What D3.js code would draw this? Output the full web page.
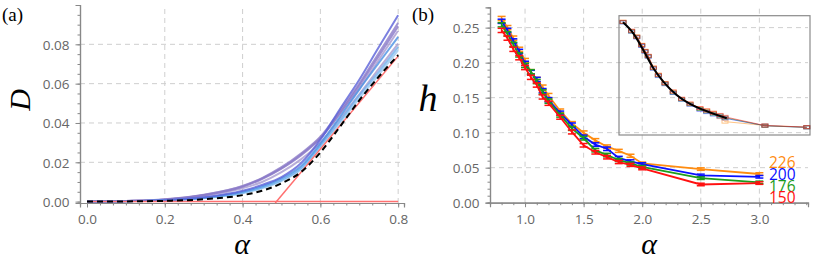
<!DOCTYPE html>
<html><head><meta charset="utf-8">
<script src="https://cdn.jsdelivr.net/npm/d3@7"></script>
<style>
body{margin:0;background:#fff;}
svg{display:block;}
.tick text{font-family:"Open Sans",sans-serif;}
</style></head>
<body>
<svg id="c" width="814" height="262"></svg>
<script>
// ---------- Panel (a) data ----------
const alphaA = [0,0.1,0.2,0.3,0.4,0.45,0.5,0.55,0.6,0.65,0.7,0.75,0.8];
const dashedD = [0,0.0001,0.0004,0.0012,0.0033,0.0055,0.0093,0.0150,0.0250,0.0380,0.0515,0.0635,0.0745];
const curvesD = [
  [0,0.0003,0.0011,0.0034,0.0078,0.0118,0.0170,0.0240,0.0325,0.0445,0.0575,0.0720,0.0870],
  [0,0.0003,0.0010,0.0030,0.0068,0.0100,0.0150,0.0215,0.0300,0.0420,0.0545,0.0675,0.0804],
  [0,0.0003,0.0012,0.0035,0.0080,0.0120,0.0175,0.0245,0.0330,0.0460,0.0600,0.0755,0.0909],
  [0,0.0003,0.0010,0.0032,0.0075,0.0115,0.0168,0.0235,0.0322,0.0450,0.0590,0.0740,0.0892],
  [0,0.0002,0.0006,0.0017,0.0042,0.0068,0.0105,0.0163,0.0278,0.0400,0.0525,0.0645,0.0770],
  [0,0.0002,0.0006,0.0018,0.0045,0.0072,0.0110,0.0170,0.0285,0.0410,0.0540,0.0660,0.0787],
  [0,0.0002,0.0007,0.0020,0.0050,0.0078,0.0118,0.0180,0.0295,0.0430,0.0570,0.0705,0.0838],
  [0,0.0002,0.0007,0.0022,0.0055,0.0085,0.0125,0.0195,0.0315,0.0470,0.0620,0.0785,0.0948]
];
const curveColors = ["#a898d0","#a89ad0","#8c7cc8","#8878c8","#98c8f0","#70b0ec","#4a90e4","#5a60d8"];
const redLineA = [[0,0],[0.8,0]];
const redSlopeA = [[0.484,-0.0007],[0.8,0.0740]];
const xTicksA = [0,0.2,0.4,0.6,0.8];
const yTicksA = [0,0.02,0.04,0.06,0.08];

// ---------- Panel (b) data ----------
const alphaB = [0.8,0.85,0.9,0.95,1.0,1.05,1.1,1.15,1.2,1.3,1.4,1.5,1.6,1.7,1.8,1.9,2.0,2.5,3.0];
const h226 = [0.263,0.250,0.235,0.219,0.203,0.187,0.176,0.165,0.153,0.131,0.113,0.100,0.089,0.080,0.074,0.067,0.056,0.048,0.041];
const h200 = [0.259,0.246,0.231,0.216,0.199,0.186,0.176,0.160,0.147,0.128,0.111,0.094,0.083,0.077,0.064,0.059,0.055,0.039,0.037];
const h176 = [0.254,0.241,0.226,0.211,0.196,0.187,0.173,0.158,0.145,0.125,0.106,0.092,0.075,0.068,0.061,0.056,0.051,0.035,0.029];
const h150 = [0.246,0.235,0.219,0.207,0.193,0.179,0.168,0.151,0.142,0.122,0.101,0.082,0.072,0.065,0.058,0.054,0.049,0.026,0.028];
const errB = [0.003,0.003,0.003,0.003,0.003,0.003,0.003,0.003,0.003,0.0028,0.0028,0.0025,0.0025,0.0025,0.0022,0.0022,0.002,0.0018,0.0018];
const sizes = ["226","200","176","150"];
const colorsB = ["#ff8c10","#0a10ff","#1c9c1c","#ff1010"];
const xTicksB = [1.0,1.5,2.0,2.5,3.0];
const yTicksB = [0,0.05,0.10,0.15,0.20,0.25];

// inset (collapsed data, arbitrary scaled units)
const insetX = [0.021,0.066,0.093,0.119,0.136,0.153,0.180,0.206,0.241,0.284,0.328,0.372,0.424,0.459,0.494,0.529,0.555,0.764,0.983];
const insetY226 = [0.950,0.872,0.826,0.756,0.706,0.662,0.566,0.505,0.436,0.364,0.302,0.262,0.222,0.206,0.186,0.150,0.112,0.080,0.066];
const insetY200 = [0.944,0.866,0.818,0.746,0.698,0.656,0.556,0.494,0.426,0.352,0.296,0.254,0.212,0.192,0.172,0.155,0.140,0.078,0.064];
const insetY176 = [0.946,0.868,0.822,0.752,0.702,0.660,0.560,0.500,0.430,0.356,0.298,0.258,0.218,0.198,0.178,0.162,0.146,0.077,0.064];
const insetY150 = [0.948,0.874,0.824,0.754,0.704,0.664,0.564,0.504,0.434,0.364,0.304,0.264,0.226,0.206,0.186,0.168,0.152,0.079,0.066];
const blackX = [0.021,0.075,0.127,0.18,0.232,0.302,0.372,0.442,0.564];
const blackY = [0.945,0.852,0.712,0.559,0.447,0.335,0.26,0.21,0.14];

const svg = d3.select("#c");
const gridColor = "#cfcfcf", axisColor = "#888", tickTextColor = "#666";

function drawAxes(x, y, xTicks, yTicks, xMinorStep, yMinorStep, fmtX, fmtY, gridX, gridY){
  const [x0,x1] = x.range(), [y0,y1] = y.range();
  const g = svg.append("g");
  g.selectAll("line.gx").data(gridX).join("line")
    .attr("x1",d=>x(d)).attr("x2",d=>x(d)).attr("y1",y0).attr("y2",y1)
    .attr("stroke",gridColor).attr("stroke-dasharray","5,4").attr("stroke-width",1);
  g.selectAll("line.gy").data(gridY).join("line")
    .attr("y1",d=>y(d)).attr("y2",d=>y(d)).attr("x1",x0).attr("x2",x1)
    .attr("stroke",gridColor).attr("stroke-dasharray","5,4").attr("stroke-width",1);
  const xd = x.domain(), yd = y.domain();
  const xMinor = d3.range(Math.ceil(xd[0]/xMinorStep-1e-6)*xMinorStep, xd[1]+1e-9, xMinorStep);
  const yMinor = d3.range(Math.ceil(yd[0]/yMinorStep-1e-6)*yMinorStep, yd[1]+1e-9, yMinorStep);
  const ax = svg.append("g").attr("transform",`translate(0,${y0})`)
    .call(d3.axisBottom(x).tickValues(xMinor).tickSize(2.5).tickFormat(""));
  const ax2 = svg.append("g").attr("transform",`translate(0,${y0})`)
    .call(d3.axisBottom(x).tickValues(xTicks).tickSize(4.5).tickPadding(6).tickFormat(fmtX));
  const ay = svg.append("g").attr("transform",`translate(${x0},0)`)
    .call(d3.axisLeft(y).tickValues(yMinor).tickSize(2.5).tickFormat(""));
  const ay2 = svg.append("g").attr("transform",`translate(${x0},0)`)
    .call(d3.axisLeft(y).tickValues(yTicks).tickSize(4.5).tickPadding(6).tickFormat(fmtY));
  [ax,ax2,ay,ay2].forEach(a=>{
    a.selectAll("path").attr("stroke",axisColor).attr("stroke-width",1.2);
    a.selectAll("line").attr("stroke",axisColor);
    a.selectAll("text").attr("fill",tickTextColor).style("font-size","13.5px");
  });
  ay2.selectAll("text").attr("dy","0.35em");
  ax2.selectAll("text").attr("dy","0.8em");
}

// ================= Panel (a) =================
const xA = d3.scaleLinear().domain([-0.018,0.815]).range([80,404]);
const yA = d3.scaleLinear().domain([-0.0007,0.1]).range([203,5]);
drawAxes(xA,yA,xTicksA,yTicksA,0.2/6,0.005,d3.format(".1f"),d3.format(".2f"),[0.2,0.4,0.6,0.8],[0.02,0.04,0.06,0.08]);

const lineA = d3.line().x((d,i)=>xA(alphaA[i])).y(d=>yA(d)).curve(d3.curveMonotoneX);
svg.append("g").selectAll("path").data(curvesD).join("path")
  .attr("d",lineA).attr("fill","none")
  .attr("stroke",(d,i)=>curveColors[i]).attr("stroke-width",2).attr("stroke-opacity",0.8);
const lineP = d3.line().x(d=>xA(d[0])).y(d=>yA(d[1]));
svg.append("path").attr("d",lineP(redLineA)).attr("stroke","#ff7070").attr("stroke-width",1.5).attr("fill","none");
svg.append("path").attr("d",lineP(redSlopeA)).attr("stroke","#ff7070").attr("stroke-width",1.5).attr("fill","none");
svg.append("path").attr("d",lineA(dashedD)).attr("fill","none")
  .attr("stroke","#000").attr("stroke-width",2).attr("stroke-dasharray","6,4");

svg.append("text").attr("x",2).attr("y",21).text("(a)")
  .style("font-family","'Liberation Serif',serif").style("font-size","19px");
svg.append("text").attr("transform","translate(30,100) rotate(-90)").attr("text-anchor","middle")
  .text("D").style("font-family","'Liberation Serif',serif").style("font-style","italic").style("font-size","30px");
svg.append("text").attr("x",242).attr("y",254).attr("text-anchor","middle")
  .text("α").style("font-family","'Liberation Serif',serif").style("font-style","italic").style("font-size","30px");

// ================= Panel (b) =================
const xB = d3.scaleLinear().domain([0.701,3.415]).range([490,808]);
const yB = d3.scaleLinear().domain([0,0.279]).range([202.7,7.3]);
drawAxes(xB,yB,xTicksB,yTicksB,0.1,0.01,d3.format(".1f"),d3.format(".2f"),[1.0,1.5,2.0,2.5,3.0],[0.05,0.10,0.15,0.20,0.25]);

const seriesB = [h226,h200,h176,h150];
const lineB = d3.line().x((d,i)=>xB(alphaB[i])).y(d=>yB(d));
seriesB.forEach((s,k)=>{
  const g = svg.append("g");
  g.append("path").attr("d",lineB(s)).attr("fill","none").attr("stroke",colorsB[k]).attr("stroke-width",1.8);
  const pts = s.map((v,i)=>({x:alphaB[i],v,e:errB[i]}));
  g.selectAll("line.v").data(pts).join("line")
    .attr("x1",d=>xB(d.x)).attr("x2",d=>xB(d.x)).attr("y1",d=>yB(d.v-d.e)).attr("y2",d=>yB(d.v+d.e))
    .attr("stroke",colorsB[k]).attr("stroke-width",1.5);
  ["top","bot"].forEach(w=>{
    g.selectAll("line."+w).data(pts).join("line")
      .attr("x1",d=>xB(d.x)-4).attr("x2",d=>xB(d.x)+4)
      .attr("y1",d=>yB(w==="top"?d.v+d.e:d.v-d.e)).attr("y2",d=>yB(w==="top"?d.v+d.e:d.v-d.e))
      .attr("stroke",colorsB[k]).attr("stroke-width",1.5);
  });
});
// size labels
const labY = [0.058,0.040,0.0235,0.0074];
sizes.forEach((s,k)=>{
  svg.append("text").attr("x",769).attr("y",yB(labY[k])).attr("dy","0.36em")
    .text(s).attr("fill",colorsB[k])
    .style("font-family","'Open Sans',sans-serif").style("font-size","15.5px");
});

// inset
const xi = d3.scaleLinear().domain([0,1]).range([619,810]);
const yi = d3.scaleLinear().domain([0,1]).range([135,15.7]);
svg.append("rect").attr("x",619).attr("y",15.7).attr("width",191).attr("height",119.3)
  .attr("fill","none").attr("stroke","#8a8a8a").attr("stroke-width",1.2);
const insetSeries = [insetY226,insetY200,insetY176,insetY150];
const lineI = d3.line().x((d,i)=>xi(insetX[i])).y(d=>yi(d));
insetSeries.forEach((s,k)=>{
  const g = svg.append("g").attr("opacity",0.5);
  g.append("path").attr("d",lineI(s)).attr("fill","none").attr("stroke",colorsB[k]).attr("stroke-width",1);
  const pts = s.map((v,i)=>({x:insetX[i],v}));
  g.selectAll("rect").data(pts).join("rect")
    .attr("x",d=>xi(d.x)-3).attr("y",d=>yi(d.v)-1.5).attr("width",6).attr("height",3)
    .attr("fill","none").attr("stroke",colorsB[k]).attr("stroke-width",1);
});
const lineBlack = d3.line().x((d,i)=>xi(blackX[i])).y(d=>yi(d)).curve(d3.curveMonotoneX);
svg.append("path").attr("d",lineBlack(blackY)).attr("fill","none").attr("stroke","#000").attr("stroke-width",2);

svg.append("text").attr("x",412).attr("y",21).text("(b)")
  .style("font-family","'Liberation Serif',serif").style("font-size","19px");
svg.append("text").attr("x",428).attr("y",111).attr("text-anchor","middle")
  .text("h").style("font-family","'Liberation Serif',serif").style("font-style","italic").style("font-size","38px");
svg.append("text").attr("x",649).attr("y",254).attr("text-anchor","middle")
  .text("α").style("font-family","'Liberation Serif',serif").style("font-style","italic").style("font-size","30px");
</script>
</body></html>
